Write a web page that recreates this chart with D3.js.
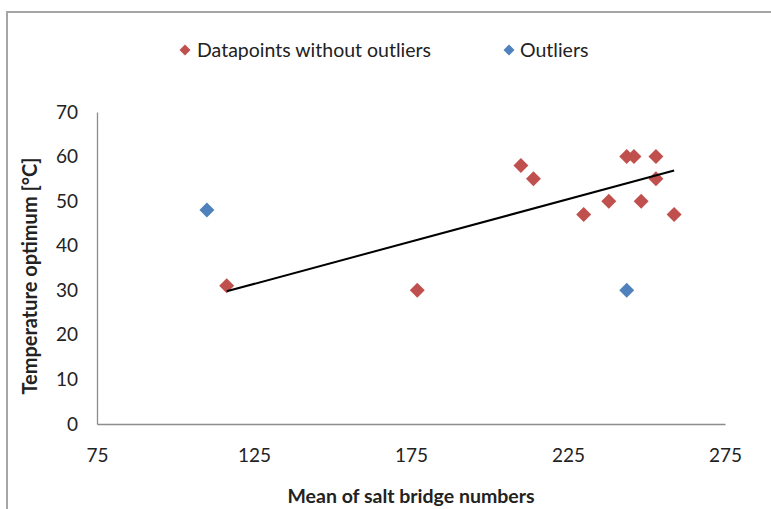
<!DOCTYPE html>
<html>
<head>
<meta charset="utf-8">
<script src="https://cdn.jsdelivr.net/npm/d3@7"></script>
<style>
  html, body { margin: 0; padding: 0; background: #fff; }
  svg { display: block; }
  text { font-family: Lato, "Open Sans", sans-serif; fill: #222; }
</style>
</head>
<body>
<svg id="chart" width="771" height="509"></svg>
<script>
// ---- data ----
const mainX = [116.3, 177, 210, 214, 230, 238, 243.7, 246, 248.3, 253, 253, 258.8];
const mainY = [31, 30, 58, 55, 47, 50, 60, 60, 50, 60, 55, 47];
const outX = [110, 243.7];
const outY = [48, 30];
const xTicks = [75, 125, 175, 225, 275];
const yTicks = [0, 10, 20, 30, 40, 50, 60, 70];
const seriesNames = ["Datapoints without outliers", "Outliers"];
const seriesColors = ["#C0504D", "#4F81BD"];
const xTitle = "Mean of salt bridge numbers";
const yTitle = "Temperature optimum [°C]";

const svg = d3.select("#chart");
const W = 771, H = 509;
const plot = { left: 97, right: 725, top: 112, bottom: 424 };

const x = d3.scaleLinear().domain([75, 275]).range([plot.left, plot.right]);
const y = d3.scaleLinear().domain([0, 70]).range([plot.bottom, plot.top]);

// outer frame
svg.append("rect").attr("x", 7).attr("y", 12).attr("width", W + 10).attr("height", H + 10)
  .attr("fill", "none").attr("stroke", "#a6a6a6").attr("stroke-width", 2);

// axes
const xAxis = svg.append("g").attr("transform", `translate(0,${plot.bottom})`)
  .call(d3.axisBottom(x).tickValues(xTicks).tickSize(0).tickPadding(25));
const yAxis = svg.append("g").attr("transform", `translate(${plot.left},0)`)
  .call(d3.axisLeft(y).tickValues(yTicks).tickSize(0).tickPadding(19));
[xAxis, yAxis].forEach(g => {
  g.select(".domain").attr("stroke", "#8c8c8c").attr("stroke-width", 1.3);
  g.selectAll("text").style("font-size", "19px").style("font-family", "Lato, sans-serif").attr("fill", "#222");
});

// diamond symbol
const diamond = s => d3.symbol().type(d3.symbolSquare).size(s);
function drawSeries(xs, ys, color) {
  svg.append("g").selectAll("path").data(xs.map((v, i) => [v, ys[i]])).join("path")
    .attr("d", diamond(112)())
    .attr("transform", d => `translate(${x(d[0])},${y(d[1])}) rotate(45)`)
    .attr("fill", color);
}
drawSeries(mainX, mainY, seriesColors[0]);
drawSeries(outX, outY, seriesColors[1]);

// linear trendline (least squares over main series)
const mx = d3.mean(mainX), my = d3.mean(mainY);
const slope = d3.sum(mainX, (v, i) => (v - mx) * (mainY[i] - my)) / d3.sum(mainX, v => (v - mx) ** 2);
const icpt = my - slope * mx;
const [x0, x1] = d3.extent(mainX);
svg.append("line")
  .attr("x1", x(x0)).attr("y1", y(icpt + slope * x0))
  .attr("x2", x(x1)).attr("y2", y(icpt + slope * x1))
  .attr("stroke", "#000").attr("stroke-width", 2);

// legend
const legendPos = [{ mx: 185, tx: 197 }, { mx: 509, tx: 520 }];
seriesNames.forEach((name, i) => {
  svg.append("path").attr("d", diamond(60)())
    .attr("transform", `translate(${legendPos[i].mx},50) rotate(45)`)
    .attr("fill", seriesColors[i]);
  svg.append("text").attr("x", legendPos[i].tx).attr("y", 57)
    .style("font-size", "19.5px").text(name);
});

// axis titles
svg.append("text").attr("x", (plot.left + plot.right) / 2).attr("y", 503)
  .attr("text-anchor", "middle").style("font-size", "19.5px").style("font-weight", "bold").text(xTitle);
svg.append("text").attr("transform", `translate(37,${(plot.top + plot.bottom) / 2 + 8}) rotate(-90)`)
  .attr("text-anchor", "middle").style("font-size", "20px").style("font-weight", "bold").text(yTitle);
</script>
</body>
</html>
